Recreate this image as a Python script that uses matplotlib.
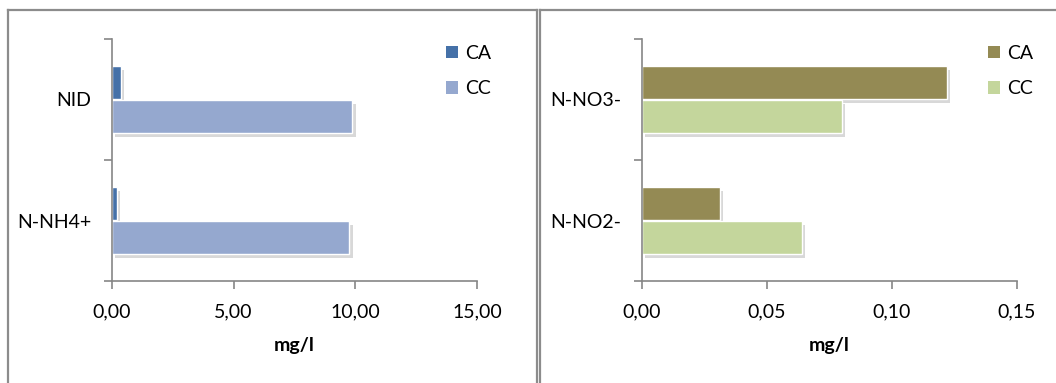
import matplotlib
matplotlib.use("Agg")
import matplotlib.pyplot as plt
from matplotlib.lines import Line2D
from matplotlib.patches import Patch
import matplotlib.patheffects as pe

plt.rcParams['font.family'] = ['Lato', 'DejaVu Sans']

# Data
left_categories = ["N-NH4+", "NID"]
left_ca = [0.2, 0.37]
left_cc = [9.75, 9.88]
left_ticks = [0, 5, 10, 15]
left_ticklabels = ["0,00", "5,00", "10,00", "15,00"]

right_categories = ["N-NO2-", "N-NO3-"]
right_ca = [0.031, 0.122]
right_cc = [0.064, 0.080]
right_ticks = [0, 0.05, 0.10, 0.15]
right_ticklabels = ["0,00", "0,05", "0,10", "0,15"]

series_names = ["CA", "CC"]
xlabel = "mg/l"

W, H = 1056, 383
fig = plt.figure(figsize=(W / 100, H / 100), dpi=100)

def px_rect(x0, y0, x1, y1):
    return [x0 / W, 1 - y1 / H, (x1 - x0) / W, (y1 - y0) / H]

axis_gray = "#868686"
FS = 14

def draw_panel(rect, cats, ca, cc, ticks, ticklabels, colors, xmax, legend_x):
    ax = fig.add_axes(rect)
    ypos = list(range(len(cats)))
    h = 0.273
    shadow = [pe.SimplePatchShadow(offset=(2.5, -3), shadow_rgbFace="#909090", alpha=0.35), pe.Normal()]
    b1 = ax.barh([y + 0.14 for y in ypos], ca, height=h, color=colors[0], edgecolor="white", linewidth=1.0)
    b2 = ax.barh([y - 0.14 for y in ypos], cc, height=h, color=colors[1], edgecolor="white", linewidth=1.0)
    for b in list(b1) + list(b2):
        b.set_path_effects(shadow)
    ax.set_ylim(-0.5, len(cats) - 0.5)
    ax.set_xlim(0, xmax)
    ax.set_xticks(ticks)
    ax.set_xticklabels(ticklabels, fontsize=FS)
    ax.set_yticks(ypos)
    ax.set_yticklabels(cats, fontsize=FS)
    ax.set_yticks([y - 0.5 for y in range(len(cats) + 1)], minor=True)
    ax.tick_params(axis="y", which="major", length=0, pad=15)
    ax.tick_params(axis="y", which="minor", length=6, color=axis_gray, width=1.2)
    ax.tick_params(axis="x", length=6, color=axis_gray, width=1.2, pad=10)
    for s in ["top", "right"]:
        ax.spines[s].set_visible(False)
    for s in ["left", "bottom"]:
        ax.spines[s].set_color(axis_gray)
        ax.spines[s].set_linewidth(1.2)
    ax.set_xlabel(xlabel, fontsize=FS, fontweight="bold", labelpad=12)
    handles = [Patch(facecolor=colors[0], edgecolor="none"), Patch(facecolor=colors[1], edgecolor="none")]
    fig.legend(handles, series_names, loc="upper left", bbox_to_anchor=(legend_x / W, 1 - 45 / H),
               frameon=False, fontsize=FS, handlelength=0.6, handleheight=0.6,
               handletextpad=0.4, labelspacing=0.95, borderaxespad=0, borderpad=0)
    return ax

draw_panel(px_rect(112, 39, 477, 281), left_categories, left_ca, left_cc,
           left_ticks, left_ticklabels, ["#4571A8", "#95A8CF"], 15, 446)
draw_panel(px_rect(642, 39, 1017, 281), right_categories, right_ca, right_cc,
           right_ticks, right_ticklabels, ["#948A54", "#C4D69C"], 0.15, 988)

# Panel frames
frame_c = "#8c8c8c"
def fline(x0, y0, x1, y1):
    fig.add_artist(Line2D([x0 / W, x1 / W], [1 - y0 / H, 1 - y1 / H], color=frame_c, linewidth=1.6,
                          transform=fig.transFigure))

fline(7.5, 9.5, 536.5, 9.5)
fline(7.5, 9.5, 7.5, 390)
fline(536.5, 9.5, 536.5, 390)
fline(539.5, 9.5, 1060, 9.5)
fline(539.5, 9.5, 539.5, 390)

fig.savefig("out.png", dpi=100)
